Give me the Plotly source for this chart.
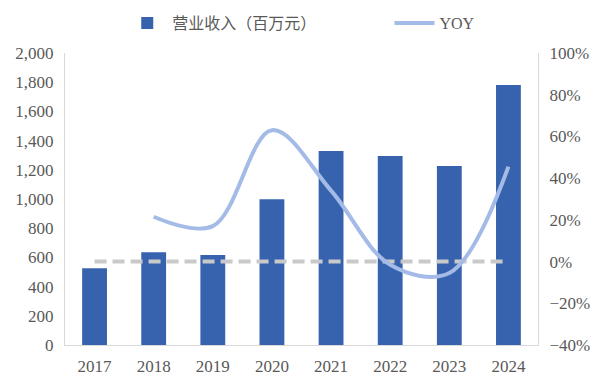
import plotly.graph_objects as go

years = ["2017", "2018", "2019", "2020", "2021", "2022", "2023", "2024"]
revenue = [525, 635, 616, 998, 1329, 1295, 1226, 1781]
yoy = [None, 21.5, 17.0, 63.0, 34.0, -1.5, -5.5, 45.5]
zero_ref = [0, 0, 0, 0, 0, 0, 0, 0]

bar_name = "营业收入（百万元）"
line_name = "YOY"

font_family = "Liberation Serif, Noto Sans CJK SC, serif"
text_color = "#595959"
axis_color = "#D9D9D9"

fig = go.Figure()
fig.add_trace(go.Bar(
    x=years, y=revenue, name=bar_name,
    marker=dict(color="#3763AE", line=dict(width=0)),
    yaxis="y", legend="legend",
))
fig.add_trace(go.Scatter(
    x=years, y=zero_ref, mode="lines", showlegend=False,
    line=dict(color="#C9C9C9", width=4, dash="12px,6px"),
    yaxis="y2", hoverinfo="skip",
))
fig.add_trace(go.Scatter(
    x=years, y=yoy, name=line_name, mode="lines",
    line=dict(color="#A3BBE6", width=4, shape="spline", smoothing=1.0),
    connectgaps=False, yaxis="y2", legend="legend2",
))

legend_common = dict(
    orientation="h", xanchor="left",
    yref="container", y=0.94, yanchor="middle",
    font=dict(size=16, color=text_color),
    itemwidth=40, bgcolor="rgba(0,0,0,0)",
)

fig.update_layout(
    width=600, height=387,
    margin=dict(l=65, r=62, t=53, b=42, autoexpand=False),
    paper_bgcolor="white", plot_bgcolor="white",
    font=dict(family=font_family, size=17, color=text_color),
    bargap=0.58,
    showlegend=True,
    legend=dict(x=0.121, **legend_common),
    legend2=dict(x=0.686, **legend_common),
    xaxis=dict(
        type="category", showgrid=False, showline=True, linecolor=axis_color,
        linewidth=1, ticks="", tickfont=dict(size=17, color=text_color),
        zeroline=False, automargin=False, ticklabelstandoff=6,
    ),
    yaxis=dict(
        range=[0, 2000], dtick=200, tickformat=",d", showgrid=False,
        showline=True, linecolor=axis_color, linewidth=1, ticks="",
        zeroline=False, tickfont=dict(size=17, color=text_color),
        automargin=False, ticklabelstandoff=7,
    ),
    yaxis2=dict(
        range=[-40, 100], dtick=20, ticksuffix="%", overlaying="y",
        side="right", showgrid=False, showline=True, linecolor=axis_color,
        linewidth=1, ticks="", zeroline=False,
        tickfont=dict(size=17, color=text_color), automargin=False,
        ticklabelstandoff=7,
    ),
)

fig.write_html(
    "out.html",
    config={"displayModeBar": False},
    post_script="document.body.style.margin='0';",
)
